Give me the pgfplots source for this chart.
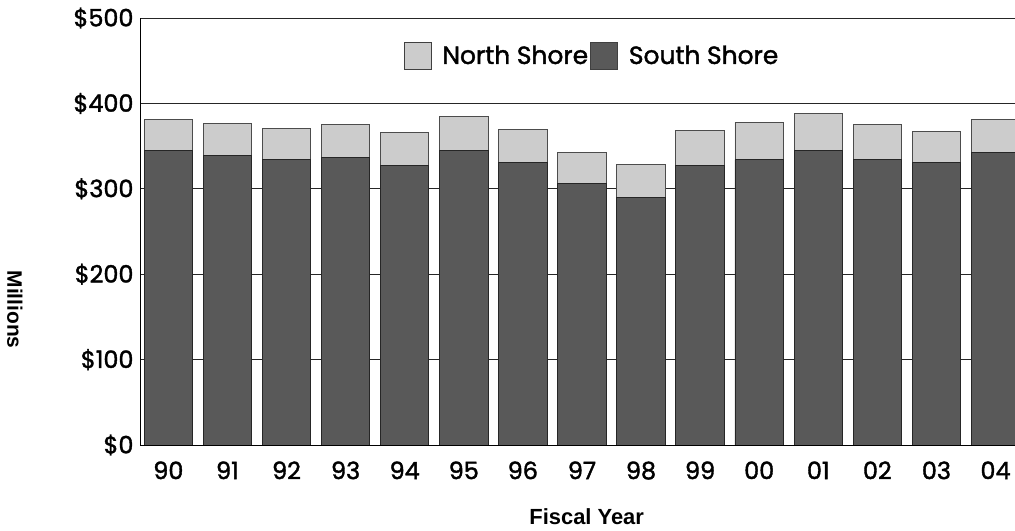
\documentclass[border=0pt]{standalone}
\usepackage{pgfplots}
\pgfplotsset{compat=1.18}
\usepackage{fontspec}
\setmainfont{Poppins}[FakeBold=1.6]
\newfontfamily\labelfont{Liberation Sans}

\definecolor{northshore}{HTML}{CCCCCC}
\definecolor{southshore}{HTML}{595959}

% Fiscal year totals in millions of dollars
\pgfplotstableread{
x year south north
0  90 345 36
1  91 339 37
2  92 334 37
3  93 337 38
4  94 327 39
5  95 345 40
6  96 331 39
7  97 306 37
8  98 290 38
9  99 327 41
10 00 334 44
11 01 345 43
12 02 334 41
13 03 331 36
14 04 342 39
}\datatable

\begin{document}
\begin{tikzpicture}
\begin{axis}[
  at={(140bp,86bp)}, anchor=south west,
  scale only axis,
  width=875bp, height=427bp,
  ybar stacked,
  bar width=0.82,
  xmin=-0.48, xmax=14.33,
  ymin=0, ymax=500,
  axis x line=bottom, axis y line=left,
  axis line style={black, line width=1bp, -},
  ytick={0,100,200,300,400,500},
  yticklabels={\$0,\$100,\$200,\$300,\$400,\$500},
  xtick={0,...,14},
  xticklabels={90,91,92,93,94,95,96,97,98,99,00,01,02,03,04},
  major tick length=0pt,
  tick label style={font=\fontsize{24}{28}\selectfont, black},
  yticklabel style={xshift=-3bp},
  xticklabel style={yshift=-13bp},
  ymajorgrids,
  grid style={black!85, line width=0.9bp},
  ylabel={Millions},
  xlabel={Fiscal Year},
  ylabel style={at={(rel axis cs:-0.143,0.317)}, anchor=center, rotate=180,
    font=\labelfont\bfseries\fontsize{21}{24}\selectfont},
  xlabel style={at={(rel axis cs:0.5105,-0.168)}, anchor=center,
    font=\labelfont\bfseries\fontsize{22}{26}\selectfont},
  legend style={at={(rel axis cs:0.5166,0.911)}, anchor=center,
    draw=none, fill=none, legend columns=2,
    font=\fontsize{25}{29}\selectfont,
    /tikz/every odd column/.append style={column sep=9bp},
    /tikz/every even column/.append style={column sep=0bp}},
  legend cell align=left,
  legend image code/.code={
    \draw[#1, draw=black!75, line width=0.8bp] (0bp,-14bp) rectangle (27bp,13bp);},
  clip=true,
]
\addplot+[ybar, fill=southshore, draw=black!85, line width=0.9bp, forget plot]
  table[x=x, y=south] {\datatable};
\addplot+[ybar, fill=northshore, draw=black!70, line width=0.9bp, forget plot]
  table[x=x, y=north] {\datatable};
\addlegendimage{fill=northshore}
\addlegendentry{North Shore}
\addlegendimage{fill=southshore}
\addlegendentry{South Shore}
\end{axis}
\pgfresetboundingbox
\path[use as bounding box] (0,0) rectangle (1015bp,531bp);
\end{tikzpicture}
\end{document}
